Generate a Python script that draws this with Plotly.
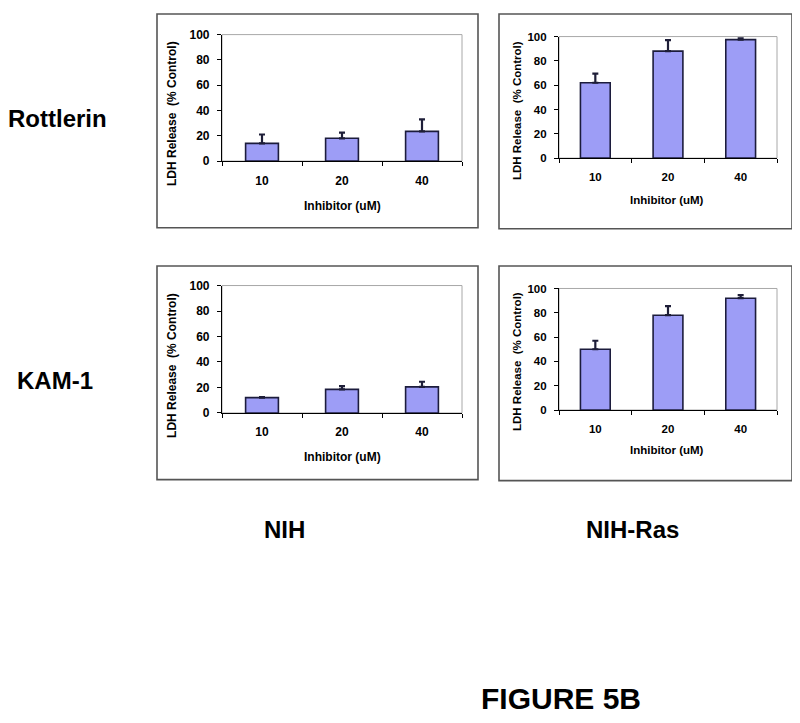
import plotly.graph_objects as go

# The page body has an 8px margin, so the figure is sized to fit inside the window
W, H = 800, 723
OFF = 8
FW, FH = W - 2 * OFF, H - 2 * OFF

doses = ["10", "20", "40"]
nih_rottlerin = [14, 18, 23.5]
nih_rottlerin_err = [7, 4.5, 9.5]
ras_rottlerin = [62, 88, 97.5]
ras_rottlerin_err = [7.5, 9, 1]
nih_kam1 = [12, 18.5, 20.5]
nih_kam1_err = [0.5, 2.5, 4]
ras_kam1 = [50, 78, 92]
ras_kam1_err = [7, 7.5, 2.5]

y_ticks = [0, 20, 40, 60, 80, 100]

FONT = "Arial, Liberation Sans, sans-serif"
BAR_FILL = "#9d9df6"
BAR_EDGE = "#1c1c3c"


def px(x):
    return (x - OFF) / FW


def py(y):
    return 1 - (y - OFF) / FH


panels = [
    dict(vals=nih_rottlerin, err=nih_rottlerin_err, area=(222, 462, 28, 157),
         box=(157, 478, 7, 225), ytitle=(172, 109), xtitle=(342, 203), fs=12),
    dict(vals=ras_rottlerin, err=ras_rottlerin_err, area=(559, 777, 30, 154),
         box=(499, 792, 7, 226), ytitle=(517, 106), xtitle=(667, 197), fs=11.5),
    dict(vals=nih_kam1, err=nih_kam1_err, area=(222, 462, 284, 414),
         box=(157, 478, 264, 482), ytitle=(172, 366), xtitle=(342, 459), fs=12),
    dict(vals=ras_kam1, err=ras_kam1_err, area=(559, 777, 287, 411),
         box=(499, 792, 264, 483), ytitle=(517, 362), xtitle=(667, 452), fs=11.5),
]

fig = go.Figure()
shapes = []
annotations = []

for i, p in enumerate(panels, start=1):
    xa = "x" if i == 1 else f"x{i}"
    ya = "y" if i == 1 else f"y{i}"
    fig.add_trace(go.Bar(
        x=doses, y=p["vals"], xaxis=xa, yaxis=ya, width=0.41,
        marker=dict(color=BAR_FILL, line=dict(color=BAR_EDGE, width=1.6)),
        error_y=dict(type="data", array=p["err"], arrayminus=[0, 0, 0],
                     symmetric=False, color="#1e1e38", thickness=2.2, width=3),
        showlegend=False, hoverinfo="x+y",
    ))
    x0, x1, yt, yb = p["area"]
    fs = p["fs"]
    common_font = dict(family=FONT, size=fs, color="black", weight="bold")
    fig.layout[f"xaxis{'' if i == 1 else i}"] = dict(
        domain=[px(x0), px(x1)], anchor=ya, type="category",
        showline=True, linecolor="black", linewidth=1.2,
        ticks="outside", tickson="boundaries", ticklen=4, tickcolor="black",
        showgrid=False, zeroline=False, tickfont=common_font,
        ticklabelstandoff=8, fixedrange=True,
    )
    fig.layout[f"yaxis{'' if i == 1 else i}"] = dict(
        domain=[py(yb), py(yt)], anchor=xa, range=[0, 100],
        tickvals=y_ticks, showline=True, linecolor="black", linewidth=1.2,
        ticks="outside", ticklen=4, tickcolor="black",
        showgrid=False, zeroline=False, tickfont=common_font,
        ticklabelstandoff=5, fixedrange=True,
    )
    xd = f"{xa} domain"
    yd = f"{ya} domain"
    shapes.append(dict(type="rect", xref=xd, yref=yd, x0=0, x1=1, y0=0, y1=1,
                       line=dict(color="#a8a8a8", width=1), layer="below"))
    bx0, bx1, by0, by1 = p["box"]
    shapes.append(dict(type="rect", xref="paper", yref="paper",
                       x0=px(bx0), x1=px(bx1), y0=py(by1), y1=py(by0),
                       line=dict(color="#555555", width=1.6), layer="below"))
    tx, ty = p["ytitle"]
    annotations.append(dict(text="LDH Release  (% Control)", xref="paper", yref="paper",
                            x=px(tx), y=py(ty), textangle=-90, showarrow=False,
                            xanchor="center", yanchor="middle",
                            font=dict(family=FONT, size=fs, color="black", weight="bold")))
    tx, ty = p["xtitle"]
    annotations.append(dict(text="Inhibitor (uM)", xref="paper", yref="paper",
                            x=px(tx), y=py(ty), showarrow=False,
                            xanchor="center", yanchor="middle",
                            font=dict(family=FONT, size=fs, color="black", weight="bold")))

big = [
    ("Rottlerin", 57, 114, 24),
    ("KAM-1", 55, 381, 24),
    ("NIH", 284, 533, 24),
    ("NIH-Ras", 632, 533, 24),
    ("FIGURE 5B", 561, 705, 30),
]
for txt, x, y, s in big:
    annotations.append(dict(text=txt, xref="paper", yref="paper", x=px(x), y=py(y),
                            showarrow=False, xanchor="center", yanchor="middle",
                            font=dict(family=FONT, size=s, color="black", weight="bold")))

fig.update_layout(
    width=FW, height=FH, margin=dict(l=0, r=0, t=0, b=0),
    paper_bgcolor="white", plot_bgcolor="white",
    shapes=shapes, annotations=annotations,
)

fig.write_html("out.html")
